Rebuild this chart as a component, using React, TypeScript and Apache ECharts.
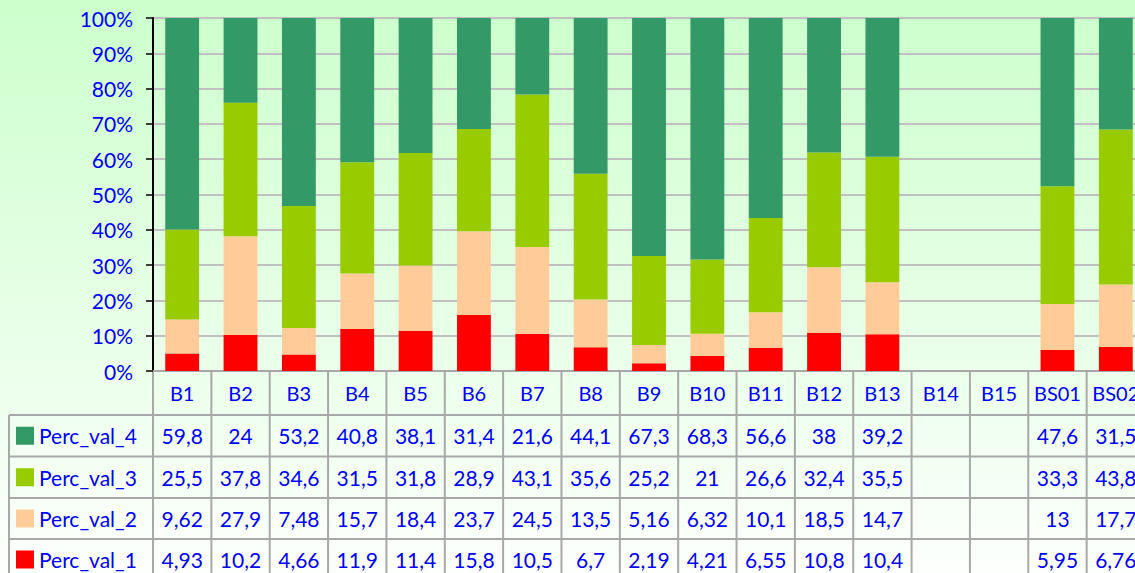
import React, { useEffect, useRef } from "react";
import * as echarts from "echarts";

const categories = ["B1", "B2", "B3", "B4", "B5", "B6", "B7", "B8", "B9", "B10", "B11", "B12", "B13", "B14", "B15", "BS01", "BS02"];
const seriesNames = ["Perc_val_1", "Perc_val_2", "Perc_val_3", "Perc_val_4"];
const percVal1 = [4.93, 10.2, 4.66, 11.9, 11.4, 15.8, 10.5, 6.7, 2.19, 4.21, 6.55, 10.8, 10.4, null, null, 5.95, 6.76];
const percVal2 = [9.62, 27.9, 7.48, 15.7, 18.4, 23.7, 24.5, 13.5, 5.16, 6.32, 10.1, 18.5, 14.7, null, null, 13, 17.7];
const percVal3 = [25.5, 37.8, 34.6, 31.5, 31.8, 28.9, 43.1, 35.6, 25.2, 21, 26.6, 32.4, 35.5, null, null, 33.3, 43.8];
const percVal4 = [59.8, 24, 53.2, 40.8, 38.1, 31.4, 21.6, 44.1, 67.3, 68.3, 56.6, 38, 39.2, null, null, 47.6, 31.5];
const seriesColors = ["#ff0000", "#ffcc99", "#99cc00", "#339966"];

const FONT = "Lato";
const BLUE = "#0000ff";
const LINE = "#a8a8a8";

export default function App() {
  const ref = useRef<HTMLDivElement>(null);
  useEffect(() => {
    const chart = echarts.init(ref.current!, null, { renderer: "svg" });
    const values = [percVal1, percVal2, percVal3, percVal4];
    const totals = categories.map((_, i) => values.reduce((s, arr) => s + (arr[i] ?? 0), 0));
    const series = values.map((arr, k) => ({
      name: seriesNames[k],
      type: "bar",
      stack: "total",
      barWidth: "58%",
      itemStyle: { color: seriesColors[k] },
      data: arr.map((v, i) => (v == null ? null : (v / totals[i]) * 100)),
    }));
    const W = 1160, H = 600;
    const gridLeft = 153, gridTop = 18, gridBottomY = 371, gridRightX = 1145;
    chart.setOption({
      animation: false,
      grid: { left: gridLeft, top: gridTop, right: W - gridRightX, bottom: H - gridBottomY },
      xAxis: {
        type: "category",
        data: categories,
        axisLine: { show: true, lineStyle: { color: LINE, width: 2 } },
        axisTick: { show: false },
        axisLabel: { color: BLUE, fontFamily: FONT, fontSize: 20, margin: 22, verticalAlign: "middle", interval: 0 },
      },
      yAxis: {
        type: "value",
        min: 0,
        max: 100,
        interval: 10,
        axisLine: { show: true, lineStyle: { color: "#000", width: 2 } },
        axisTick: { show: true, length: 7, lineStyle: { color: "#000", width: 1.5 } },
        axisLabel: { color: BLUE, fontFamily: FONT, fontSize: 21, margin: 20, formatter: (v: number) => v + "%" },
        splitLine: { show: true, lineStyle: { color: "#c0c0c0", width: 2 } },
      },
      series,
    });

    const xs = categories.map((_, i) => chart.convertToPixel({ xAxisIndex: 0 }, i) as number);
    const cellW = xs[1] - xs[0];
    const rowTops = [415, 456.5, 498, 539, 580];
    const legendLeft = 9;
    const graphic: any[] = [];
    const line = (x1: number, y1: number, x2: number, y2: number) =>
      graphic.push({ type: "line", shape: { x1, y1, x2, y2 }, style: { stroke: LINE, lineWidth: 2 }, silent: true });
    rowTops.forEach((y) => line(legendLeft, y, gridRightX, y));
    line(legendLeft, rowTops[0], legendLeft, H);
    line(gridLeft, gridBottomY, gridLeft, H);
    xs.forEach((x) => line(x + cellW / 2, gridBottomY, x + cellW / 2, H));
    const rowOrder = [3, 2, 1, 0];
    rowOrder.forEach((k, r) => {
      const cy = (rowTops[r] + rowTops[r + 1]) / 2;
      graphic.push({ type: "rect", shape: { x: 16, y: cy - 9, width: 18, height: 18 }, style: { fill: seriesColors[k] }, silent: true });
      graphic.push({
        type: "text", x: 39, y: cy,
        style: { text: seriesNames[k], fill: BLUE, font: `21px ${FONT}`, textAlign: "left", textVerticalAlign: "middle" },
        silent: true,
      });
      values[k].forEach((v, i) => {
        if (v == null) return;
        graphic.push({
          type: "text", x: xs[i], y: cy,
          style: { text: String(v).replace(".", ","), fill: BLUE, font: `21px ${FONT}`, textAlign: "center", textVerticalAlign: "middle" },
          silent: true,
        });
      });
    });
    chart.setOption({ graphic });
    return () => chart.dispose();
  }, []);
  return (
    <div style={{ position: "fixed", left: 0, top: 0, width: 1135, height: 573, overflow: "hidden", background: "linear-gradient(#ccffcc, #ffffff 600px)" }}>
      <div ref={ref} style={{ width: 1160, height: 600 }} />
    </div>
  );
}
